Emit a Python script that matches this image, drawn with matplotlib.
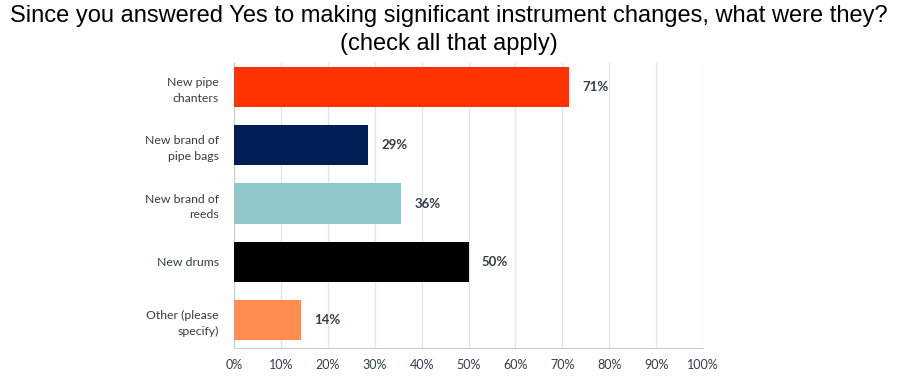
import matplotlib
matplotlib.use("Agg")
import matplotlib.pyplot as plt
import numpy as np

categories = ["New pipe\nchanters", "New brand of\npipe bags", "New brand of\nreeds",
              "New drums", "Other (please\nspecify)"]
values = [71.43, 28.57, 35.71, 50.00, 14.29]
labels = ["71%", "29%", "36%", "50%", "14%"]
colors = ["#FF3300", "#001E55", "#8EC8C9", "#000000", "#FF8C50"]
ticks = list(range(0, 101, 10))

fig = plt.figure(figsize=(8.97, 3.9), dpi=100)
ax = fig.add_axes([0.2609, 0.1077, 0.5228, 0.7303])

y = np.arange(len(categories))
ax.barh(y, values, height=0.69, color=colors, zorder=3)
for yi, v, lab in zip(y, values, labels):
    ax.text(v + 2.8, yi, lab, va="center", ha="left", fontsize=9.5,
            fontweight="bold", color="#333E48", family="Lato")

ax.set_ylim(len(categories) - 1 + 0.48, -0.41)
ax.set_xlim(0, 100)
ax.set_xticks(ticks)
ax.set_xticklabels([f"{t}%" for t in ticks], fontsize=9, color="#333E48", family="Lato")
ax.set_yticks(y)
ax.set_yticklabels(categories, fontsize=8.8, color="#333E48", family="Lato",
                   linespacing=1.55)
ax.tick_params(length=0, pad=8)
ax.tick_params(axis="y", pad=11)
ax.grid(axis="x", color="#E5E5E5", linewidth=1, zorder=0)
for s in ["top", "right"]:
    ax.spines[s].set_visible(False)
ax.spines["left"].set_color("#CCCCCC")
ax.spines["bottom"].set_color("#CCCCCC")

fig.text(0.5, 0.988, "Since you answered Yes to making significant instrument changes, what were they?\n(check all that apply)",
         ha="center", va="top", fontsize=17, family="Liberation Sans", linespacing=1.38)

fig.savefig("out.png", dpi=100)
